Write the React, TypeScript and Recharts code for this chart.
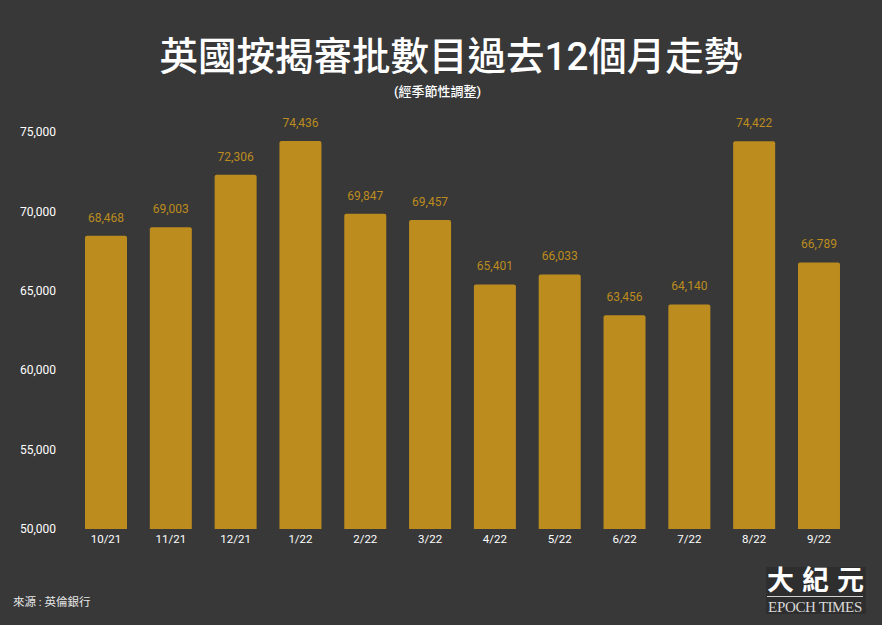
import React from "react";
import { BarChart, Bar, XAxis, YAxis, LabelList } from "recharts";

const categories = ["10/21","11/21","12/21","1/22","2/22","3/22","4/22","5/22","6/22","7/22","8/22","9/22"];
const approvals = [68468,69003,72306,74436,69847,69457,65401,66033,63456,64140,74422,66789];
const yTicks = [50000,55000,60000,65000,70000,75000];
const titleText = "英國按揭審批數目過去12個月走勢";
const subtitleText = "(經季節性調整)";
const sourceText = "來源 : 英倫銀行";
const logoCn = "大紀元";
const logoEn = "EPOCH TIMES";

const data = categories.map((month, i) => ({ month, value: approvals[i] }));
const fmt = (v: number) => v.toLocaleString("en-US");
const BG = "#383838";
const GOLD = "#BC8C1E";
const CJK = 'Roboto, "Noto Sans CJK TC", sans-serif';

const abs = (s: React.CSSProperties): React.CSSProperties => ({ position: "absolute", whiteSpace: "nowrap", ...s });

export default function App() {
  return (
    <div style={{ position: "absolute", left: 0, top: 0, width: 882, height: 625, background: BG, overflow: "hidden" }}>
      <BarChart
        width={882}
        height={625}
        data={data}
        margin={{ top: 132, right: 30.6, bottom: 56, left: 0 }}
        barCategoryGap={11.4}
        style={{ position: "absolute", left: 0, top: 0 }}
      >
        <XAxis
          dataKey="month"
          interval={0}
          axisLine={false}
          tickLine={false}
          tickMargin={0}
          height={40}
          tick={{ fill: "#ffffff", fontSize: 11.5, fontFamily: "Roboto, sans-serif" }}
        />
        <YAxis
          width={73.6}
          domain={[50000, 75000]}
          ticks={yTicks}
          interval={0}
          axisLine={false}
          tickLine={false}
          tickMargin={11.6}
          tickFormatter={fmt}
          tick={{ fill: "#ffffff", fontSize: 12, fontFamily: "Roboto, sans-serif" }}
        />
        <Bar dataKey="value" fill={GOLD} radius={[2, 2, 0, 0]} isAnimationActive={false}>
          <LabelList
            dataKey="value"
            position="top"
            offset={14}
            formatter={fmt}
            fill={GOLD}
            fontSize={12}
            fontFamily="Roboto, sans-serif"
          />
        </Bar>
      </BarChart>
      <div style={abs({ left: 0, width: 902, top: 35, textAlign: "center", color: "#fff", fontSize: 38.5, lineHeight: "44px", fontWeight: 500, fontFamily: CJK })}>{titleText}</div>
      <div style={abs({ left: 0, width: 875, top: 83, textAlign: "center", color: "#fff", fontSize: 13, lineHeight: "18px", fontWeight: 500, fontFamily: CJK })}>{subtitleText}</div>
      <div style={abs({ left: 13, top: 593, color: "#e6e6e6", fontSize: 11.5, lineHeight: "18px", fontFamily: CJK })}>{sourceText}</div>
      <div style={abs({ left: 766, top: 567, width: 100, height: 47, background: "#2e2e2e" })} />
      <div style={abs({ left: 767, top: 566, width: 100, textAlign: "center", color: "#fff", fontSize: 27, lineHeight: "30px", letterSpacing: 8, fontWeight: 700, fontFamily: CJK })}>{logoCn}</div>
      <div style={abs({ left: 767, top: 596, width: 96, height: 1, background: "#cfcfcf" })} />
      <div style={abs({ left: 767, top: 599, width: 96, textAlign: "center", color: "#d8d8d8", fontSize: 15, lineHeight: "16px", letterSpacing: -0.35, fontFamily: '"Liberation Serif", serif' })}>{logoEn}</div>
    </div>
  );
}
